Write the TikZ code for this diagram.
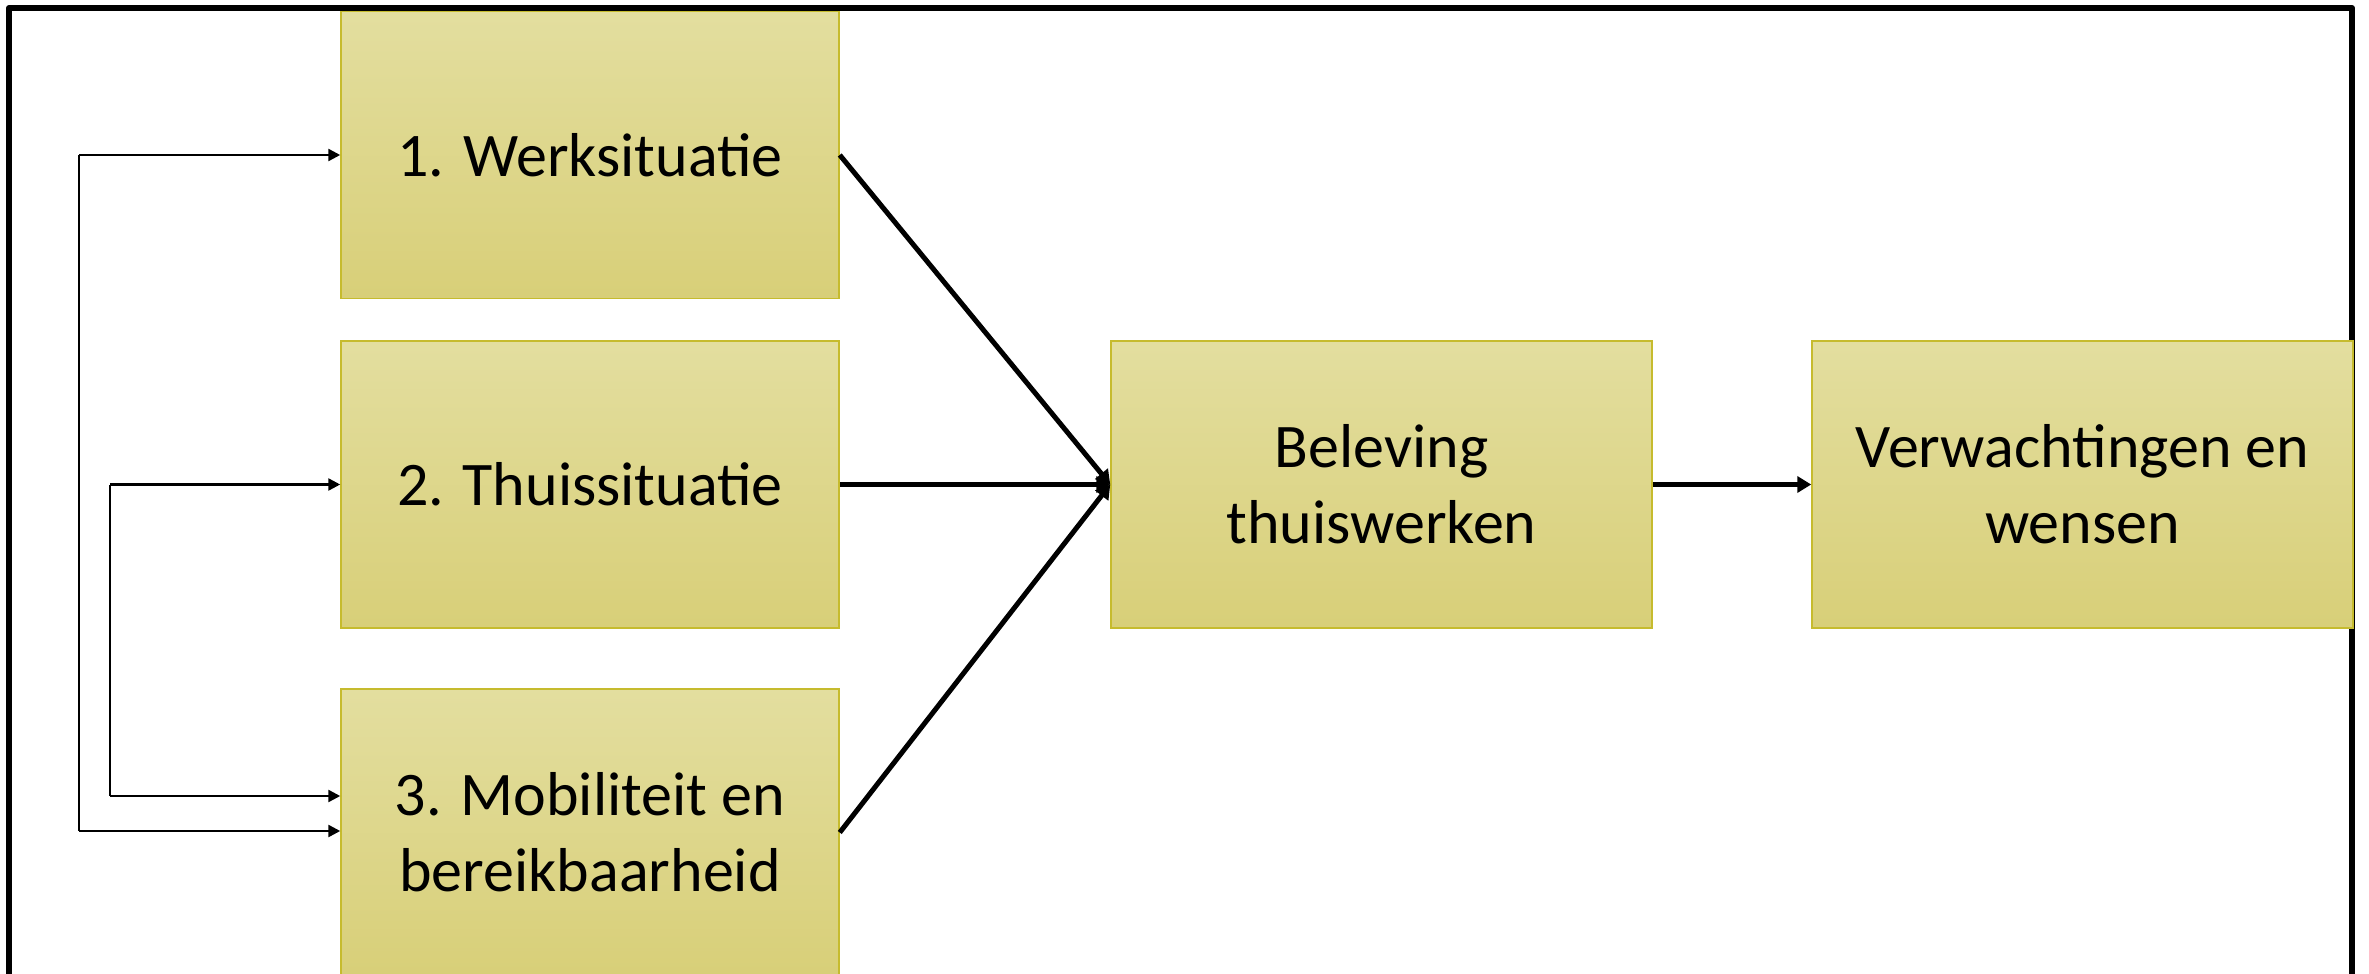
\documentclass[tikz,border=0pt]{standalone}
\usepackage{fontspec}
\setmainfont{Carlito}
\usetikzlibrary{arrows.meta,calc}
\definecolor{boxtop}{HTML}{E3DE9F}
\definecolor{boxbot}{HTML}{D8CF78}
\definecolor{boxedge}{HTML}{C6BB2E}
\begin{document}
\begin{tikzpicture}[x=1pt,y=-1pt,
  box/.style={rectangle, draw=boxedge, line width=1.5pt, top color=boxtop, bottom color=boxbot,
    minimum height=287pt, inner sep=0pt, align=center, font=\fontsize{62}{76}\selectfont},
  leftbox/.style={box, minimum width=498pt},
  rightbox/.style={box, minimum width=541pt},
  frameline/.style={line width=6pt, line join=round},
  thinline/.style={line width=1.5pt},
  thinarrow/.style={line width=2.5pt, -{Triangle[length=12pt,width=12pt]}},
  thickarrow/.style={line width=5pt, -{Triangle[length=14pt,width=16pt]}}
]
\useasboundingbox (0,0) rectangle (2369,974);
\clip (0,0) rectangle (2369,974);
\fill[white] (0,0) rectangle (2369,974);
% frame
\draw[frameline] (9,990) -- (9,8) -- (2352,8) -- (2352,990);
% boxes
\node[leftbox] (b1) at (590,155) {1. Werksituatie};
\node[leftbox] (b2) at (590,484.5) {2. Thuissituatie};
\node[leftbox] (b3) at (590,832.5) {3. Mobiliteit en\\bereikbaarheid};
\node[rightbox] (bel) at (1381.5,484.5) {Beleving\\thuiswerken};
\node[rightbox] (ver) at (2082.5,484.5) {Verwachtingen en\\wensen};
% left feedback connectors
\coordinate (o1) at (79,155);
\coordinate (o2) at (79,831);
\coordinate (i1) at (110,484.5);
\coordinate (i2) at (110,796);
\draw[thinline] (o1) -- (o2);
\draw[thinline] (i1) -- (i2);
\draw[thinarrow] (o1) -- (b1.west);
\draw[thinarrow] (o2) -- (o2 -| b3.west);
\draw[thinarrow] (i1) -- (b2.west);
\draw[thinarrow] (i2) -- (i2 -| b3.west);
% main arrows
\draw[thickarrow] (b1.east) -- (bel.west);
\draw[thickarrow] (b2.east) -- (bel.west);
\draw[thickarrow] (b3.east) -- (bel.west);
\draw[thickarrow] (bel.east) -- (ver.west);
\end{tikzpicture}
\end{document}
